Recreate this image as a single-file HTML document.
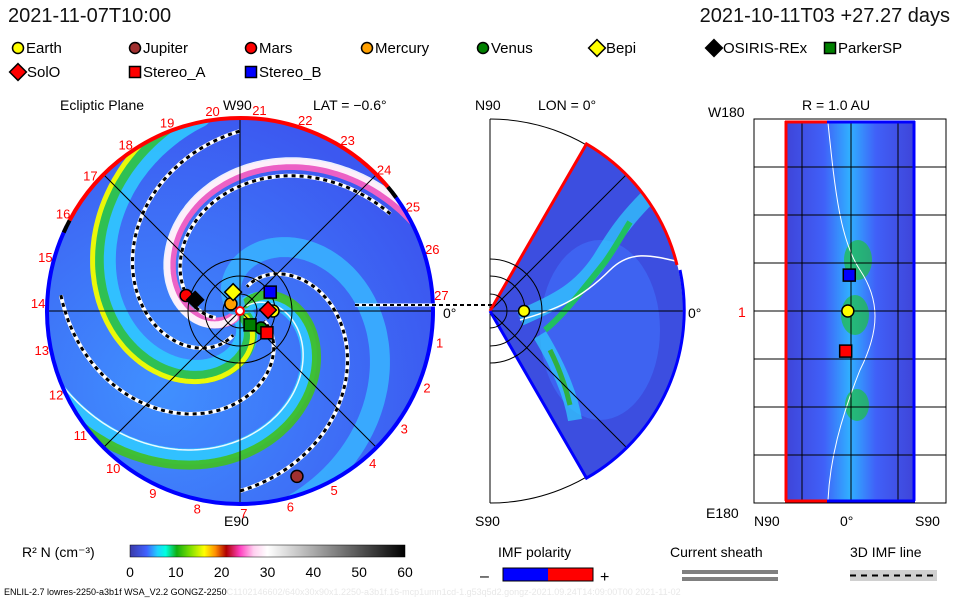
<!DOCTYPE html>
<html><head><meta charset="utf-8">
<style>
html,body{margin:0;padding:0;background:#fff;}
body{width:960px;height:600px;overflow:hidden;font-family:"Liberation Sans",sans-serif;}
svg text{font-family:"Liberation Sans",sans-serif;}
</style></head>
<body>
<svg id="chart" width="960" height="600" viewBox="0 0 960 600" xmlns="http://www.w3.org/2000/svg">
<defs>
<linearGradient id="cbar" x1="0" x2="1" y1="0" y2="0">
<stop offset="0" stop-color="#3a3aa8"/><stop offset="0.06" stop-color="#4060ff"/>
<stop offset="0.1" stop-color="#20d0ff"/><stop offset="0.13" stop-color="#00ffe0"/>
<stop offset="0.17" stop-color="#10b010"/><stop offset="0.22" stop-color="#80e000"/>
<stop offset="0.27" stop-color="#ffff00"/><stop offset="0.31" stop-color="#ff9000"/>
<stop offset="0.35" stop-color="#b00000"/><stop offset="0.4" stop-color="#ff40c0"/>
<stop offset="0.45" stop-color="#ffd0f0"/><stop offset="0.5" stop-color="#ffffff"/>
<stop offset="1" stop-color="#000000"/>
</linearGradient>
<clipPath id="diskClip"><circle cx="240" cy="311" r="193"/></clipPath>
<clipPath id="wedgeClip"><path d="M490,311 L586.5,143.9 A193,193 0 0 1 586.5,478.1 Z"/></clipPath>
<radialGradient id="diskBg" cx="0.3" cy="0.7" r="0.75">
<stop offset="0" stop-color="#4090ff"/><stop offset="1" stop-color="#3c58f0"/>
</radialGradient>
<linearGradient id="latBg" x1="0" x2="1">
<stop offset="0" stop-color="#3f44d8"/><stop offset="0.3" stop-color="#4060f8"/>
<stop offset="0.5" stop-color="#30b0ff"/><stop offset="0.7" stop-color="#4060f8"/><stop offset="1" stop-color="#3f44d8"/>
</linearGradient>
</defs>

<text x="8" y="22" font-size="20" fill="#111">2021-11-07T10:00</text>
<text x="950" y="22" font-size="20" fill="#111" text-anchor="end">2021-10-11T03 +27.27 days</text>

<g id="legend" font-size="15"></g>

<g>
<text x="60" y="110" font-size="14">Ecliptic Plane</text>
<text x="223" y="110" font-size="14">W90</text>
<text x="313" y="110" font-size="14">LAT = −0.6°</text>
<text x="224" y="526" font-size="14">E90</text>
<g id="daylabels" font-size="13" fill="#f00"></g>
<circle cx="240" cy="311" r="193" fill="url(#diskBg)"/>
<g id="spirals" clip-path="url(#diskClip)"></g>
<g id="rings" fill="none" stroke="#000" stroke-width="1"></g>
<g id="border"></g>
<g id="bodies"></g>
<line x1="355" y1="305" x2="500" y2="305" stroke="#fff" stroke-width="3"/>
<line x1="355" y1="305" x2="500" y2="305" stroke="#000" stroke-width="2" stroke-dasharray="4,3"/>
<text x="443" y="318" font-size="14">0°</text>
</g>

<g>
<text x="475" y="110" font-size="14">N90</text>
<text x="538" y="110" font-size="14">LON = 0°</text>
<text x="475" y="526" font-size="14">S90</text>
<path d="M490,119 A192,192 0 0 1 490,503" fill="none" stroke="#000" stroke-width="1"/>
<line x1="490" y1="119" x2="490" y2="503" stroke="#000"/>
<path d="M490,311 L586.5,143.9 A193,193 0 0 1 586.5,478.1 Z" fill="#3c4ee0"/>
<g clip-path="url(#wedgeClip)">
<ellipse cx="600" cy="330" rx="60" ry="90" fill="#3f6cf8" opacity="0.7"/>
<path d="M520,318 C560,300 580,290 600,260 C615,235 625,220 650,195" stroke="#30d0ff" stroke-width="16" fill="none" opacity="0.7"/>
<path d="M545,330 C560,318 575,300 605,262 C615,248 622,235 630,222" stroke="#20c060" stroke-width="6" fill="none"/>
<path d="M540,335 C555,360 570,390 575,420" stroke="#30d0ff" stroke-width="14" fill="none" opacity="0.7"/>
<path d="M550,350 C560,370 566,388 570,405" stroke="#30b040" stroke-width="5" fill="none"/>
<path d="M520,320 C555,310 580,300 610,270 C630,250 650,255 680,262" stroke="#fff" stroke-width="1.5" fill="none"/>
<line x1="490" y1="311" x2="683" y2="311" stroke="#000"/>
<line x1="490" y1="311" x2="626" y2="175" stroke="#000"/>
<line x1="490" y1="311" x2="626" y2="447" stroke="#000"/>
</g>
<path d="M490,311 L586.5,143.9 A193,193 0 0 1 677,265" fill="none" stroke="#f00" stroke-width="3"/>
<path d="M680,270 A193,193 0 0 1 586.5,478.1 L490,311" fill="none" stroke="#00f" stroke-width="3"/>
<g fill="none" stroke="#000"><path d="M490,294 A17,17 0 0 1 490,328"/><path d="M490,276 A35,35 0 0 1 490,346"/><path d="M490,259 A52,52 0 0 1 490,363"/></g>
<circle cx="524" cy="311" r="5.5" fill="#ff0" stroke="#000" stroke-width="1.5"/>
<text x="688" y="318" font-size="14">0°</text>
</g>

<g>
<text x="802" y="110" font-size="14">R = 1.0 AU</text>
<text x="708" y="117" font-size="14">W180</text>
<text x="706" y="518" font-size="14">E180</text>
<text x="754" y="526" font-size="14">N90</text>
<text x="840" y="526" font-size="14">0°</text>
<text x="915" y="526" font-size="14">S90</text>
<text x="738" y="317" font-size="14" fill="#f00">1</text>
<rect x="754" y="119" width="192" height="384" fill="none" stroke="#000"/>
<rect x="785" y="121" width="130" height="380" fill="url(#latBg)"/>
<ellipse cx="858" cy="260" rx="14" ry="20" fill="#20c040" opacity="0.7"/>
<ellipse cx="855" cy="315" rx="14" ry="20" fill="#20c040" opacity="0.7"/>
<ellipse cx="857" cy="405" rx="12" ry="16" fill="#20c040" opacity="0.7"/>
<path d="M828,123 C835,190 840,240 860,270 C880,300 880,330 860,370 C840,420 830,460 828,500" fill="none" stroke="#fff" stroke-width="1"/>
<g stroke="#000" stroke-width="1">
<line x1="802" y1="121" x2="802" y2="501"/><line x1="851" y1="121" x2="851" y2="501"/><line x1="898" y1="121" x2="898" y2="501"/>
<line x1="754" y1="167" x2="946" y2="167"/><line x1="754" y1="215" x2="946" y2="215"/><line x1="754" y1="263" x2="946" y2="263"/>
<line x1="754" y1="311" x2="946" y2="311"/><line x1="754" y1="359" x2="946" y2="359"/><line x1="754" y1="407" x2="946" y2="407"/><line x1="754" y1="455" x2="946" y2="455"/>
</g>
<line x1="786" y1="121" x2="786" y2="501" stroke="#f00" stroke-width="3"/>
<line x1="914" y1="121" x2="914" y2="501" stroke="#00f" stroke-width="3"/>
<line x1="785" y1="122" x2="827" y2="122" stroke="#f00" stroke-width="3"/><line x1="827" y1="122" x2="915" y2="122" stroke="#00f" stroke-width="3"/>
<line x1="785" y1="501" x2="827" y2="501" stroke="#f00" stroke-width="3"/><line x1="827" y1="501" x2="915" y2="501" stroke="#00f" stroke-width="3"/>
<g id="rightBodies"></g>
</g>

<g>
<text x="22" y="557" font-size="14">R² N (cm⁻³)</text>
<rect x="130" y="545" width="275" height="12" fill="url(#cbar)" stroke="#000" stroke-width="0.5"/>
<g id="cbticks" font-size="14" text-anchor="middle"></g>
</g>
<g>
<text x="498" y="557" font-size="14">IMF polarity</text>
<text x="480" y="581" font-size="16">–</text>
<rect x="503" y="568" width="45" height="13" fill="#00f"/><rect x="548" y="568" width="45" height="13" fill="#f00"/>
<rect x="503" y="568" width="90" height="13" fill="none" stroke="#000"/>
<text x="600" y="582" font-size="16">+</text>
</g>
<g>
<text x="670" y="557" font-size="14">Current sheath</text>
<rect x="682" y="570" width="96" height="4" fill="#808080"/><rect x="682" y="577" width="96" height="4" fill="#808080"/>
</g>
<g>
<text x="850" y="557" font-size="14">3D IMF line</text>
<rect x="850" y="570" width="87" height="11" fill="#d0d0d0"/>
<line x1="850" y1="575.5" x2="937" y2="575.5" stroke="#000" stroke-width="2" stroke-dasharray="6,5"/>
</g>
<text x="4" y="595" font-size="9">ENLIL-2.7 lowres-2250-a3b1f WSA_V2.2 GONGZ-2250<tspan fill="#e8e8e8">C1102146602/640x30x90x1.2250-a3b1f.16-mcp1umn1cd-1.g53q5d2.gongz-2021.09.24T14:09:00T00   2021-11-02</tspan></text>
</svg>
<script>
const bodyNames = ["Earth","Jupiter","Mars","Mercury","Venus","Bepi","OSIRIS-REx","ParkerSP","SolO","Stereo_A","Stereo_B"];
const bodyLon = [0,-71,164,142,-39,110,166,-54,2,-39,32];
const bodyR = [1.0,5.3,1.70,0.35,0.82,0.61,1.40,0.52,0.85,1.05,1.08];
const bodyShape = ["circle","circle","circle","circle","circle","diamond","diamond","square","diamond","square","square"];
const bodyColor = ["#ffff00","#a03030","#ff0000","#ffa000","#008000","#ffff00","#000000","#008000","#ff0000","#ff0000","#0000ff"];
const legendOrder = ["Earth","Jupiter","Mars","Mercury","Venus","Bepi","OSIRIS-REx","ParkerSP","SolO","Stereo_A","Stereo_B"];
const legendX = [18,135,251,367,483,597,714,830,18,135,251];
const rightNames = ["Stereo_B","Earth","Stereo_A"];
const rightLon = [34,0,-38];
const rightLat = [1,3,6];
const colorbarTicks = [0,10,20,30,40,50,60];
const armR0 = [125,133,138,52,56,221,230,214,300];
const armColor = ["#30c8ff","#30c040","#ffff00","#ff60c0","#ffffff","#30c8ff","#40c020","#ffffff","#38b0ff"];
const armWidth = [22,13,5,11,7,16,9,1.5,20];
const dashR0 = [40,95,175,265];

const NS="http://www.w3.org/2000/svg";
const cx=240, cy=311, AU=33, K=340/(2*Math.PI), RMAX=193;
function mk(tag,attrs,parent){const e=document.createElementNS(NS,tag);for(const k in attrs)e.setAttribute(k,attrs[k]);parent.appendChild(e);return e;}
function xPolar(r,deg){return cx + r*Math.cos(deg*Math.PI/180);}
function yPolar(r,deg){return cy - r*Math.sin(deg*Math.PI/180);}
function spiralPath(r0,rmin,rmax){let d="";let started=false;
 for(let t=-4*Math.PI;t<=4*Math.PI;t+=0.02){const r=r0+K*(Math.PI-t);if(r<rmin||r>rmax)continue;
  const x=cx+r*Math.cos(t),y=cy-r*Math.sin(t);d+=(started?"L":"M")+x.toFixed(1)+","+y.toFixed(1);started=true;}return d;}

const sp=document.getElementById("spirals");
armR0.forEach((r0,i)=>{const p=mk("path",{d:spiralPath(r0,8,200),fill:"none",stroke:armColor[i],"stroke-width":armWidth[i],"stroke-linecap":"round",opacity:0.9},sp);
 
 });
dashR0.forEach((r0)=>{const d=spiralPath(r0,25,180);
 const w=mk("path",{d:d,fill:"none",stroke:"#fff","stroke-width":4},sp);
 
 
 const b=mk("path",{d:d,fill:"none",stroke:"#000","stroke-width":3,"stroke-dasharray":"4,4"},sp);
 
 });

const rg=document.getElementById("rings");
[17,35,52].forEach(r=>mk("circle",{cx:cx,cy:cy,r:r},rg));
mk("line",{x1:cx-RMAX,y1:cy,x2:cx+RMAX,y2:cy},rg);
mk("line",{x1:cx,y1:cy-RMAX,x2:cx,y2:cy+RMAX},rg);
[45,135].forEach(a=>mk("line",{x1:xPolar(RMAX,a),y1:yPolar(RMAX,a),x2:xPolar(RMAX,a+180),y2:yPolar(RMAX,a+180)},rg));

const bd=document.getElementById("border");
function arc(a1,a2,col,large){const d=`M${xPolar(RMAX,a1)},${yPolar(RMAX,a1)} A${RMAX},${RMAX} 0 ${large} 1 ${xPolar(RMAX,a2)},${yPolar(RMAX,a2)}`;
 const e=mk("path",{d:d,fill:"none",stroke:col,"stroke-width":4},bd);
 
 }
arc(152,40,"#f00",0);arc(38,-206,"#00f",1);arc(156,152,"#000",0);arc(40,36,"#000",0);

const dl=document.getElementById("daylabels");
for(let n=1;n<=27;n++){const a=4.5+(27-n)*13.33;const t=mk("text",{x:xPolar(202,a),y:yPolar(202,a)+5,"text-anchor":"middle"},dl);t.textContent=n;
 
 }

function marker(parent,shape,x,y,col,s){let e;
 if(shape==="circle")e=mk("circle",{cx:x,cy:y,r:s,fill:col,stroke:"#000","stroke-width":1.5},parent);
 else if(shape==="square")e=mk("rect",{x:x-s,y:y-s,width:2*s,height:2*s,fill:col,stroke:"#000","stroke-width":1.5},parent);
 else e=mk("polygon",{points:`${x},${y-s*1.4} ${x+s*1.4},${y} ${x},${y+s*1.4} ${x-s*1.4},${y}`,fill:col,stroke:"#000","stroke-width":1.5},parent);
 return e;}
const bg=document.getElementById("bodies");
mk("circle",{cx:cx,cy:cy,r:4,fill:"#fff",stroke:"#f00","stroke-width":2},bg);
bodyNames.forEach((n,i)=>{const r=bodyR[i]*AU;const e=marker(bg,bodyShape[i],xPolar(r,bodyLon[i]),yPolar(r,bodyLon[i]),bodyColor[i],6);
 
 });

const rb=document.getElementById("rightBodies");
rightNames.forEach((n,i)=>{const k=bodyNames.indexOf(n);const x=850+rightLat[i]*(-130/180);const y=311-rightLon[i]*(380/360);
 const e=marker(rb,bodyShape[k],x,y,bodyColor[k],6);
 
 });

const lg=document.getElementById("legend");
legendOrder.forEach((n,i)=>{const k=bodyNames.indexOf(n);const y=i<8?48:72;const x=legendX[i];
 const m=marker(lg,bodyShape[k],x,y,bodyColor[k],bodyShape[k]==="diamond"?6:5.5);
 
 
 const t=mk("text",{x:x+(bodyShape[k]==="diamond"?9:8),y:y+5},lg);t.textContent=n;
 
 });

const cb=document.getElementById("cbticks");
colorbarTicks.forEach(v=>{const t=mk("text",{x:130+v/60*275,y:577},cb);t.textContent=v;
 
 });
</script>
</body></html>
